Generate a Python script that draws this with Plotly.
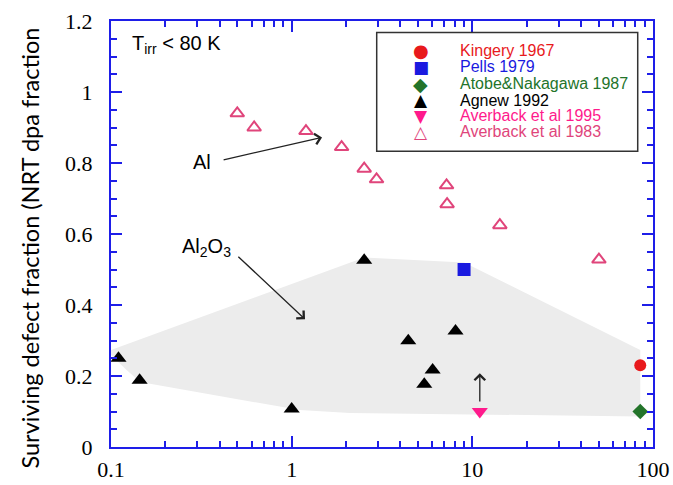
import plotly.graph_objects as go

# ---------------- data ----------------
kingery_x = [85.0]
kingery_y = [0.23]

pells_x = [9.0]
pells_y = [0.50]

atobe_x = [85.0]
atobe_y = [0.10]

agnew_x = [0.11, 0.144, 1.0, 2.52, 4.42, 5.42, 6.03, 8.07]
agnew_y = [0.25, 0.188, 0.107, 0.526, 0.299, 0.177, 0.217, 0.327]

av95_x = [11.0]
av95_y = [0.10]

av83_x = [0.50, 0.62, 1.20, 1.89, 2.52, 2.95, 7.2, 7.25, 14.2, 50.2]
av83_y = [0.94, 0.90, 0.89, 0.845, 0.784, 0.754, 0.737, 0.684, 0.625, 0.528]

# Al2O3 shaded band (boundary of the region)
band_x = [0.1, 2.52, 9.0, 85.0, 85.0, 2.1, 1.11, 0.145, 0.122, 0.1]
band_y = [0.273, 0.534, 0.52, 0.273, 0.086, 0.096, 0.104, 0.183, 0.217, 0.259]

legend_names = ["Kingery 1967", "Pells 1979", "Atobe&Nakagawa 1987",
                "Agnew 1992", "Averback et al 1995", "Averback et al 1983"]
legend_glyphs = ["●", "■", "◆", "▲", "▼", "△"]
legend_glyph_sizes = [18, 17, 19, 17, 17, 17]
legend_colors = ["#e8191c", "#1a1ae0", "#23742a", "#000000", "#ff1a8c", "#e0457b"]

x_tickvals = [0.1, 1, 10, 100]
x_ticktext = ["0.1", "1", "10", "100"]
y_tickvals = [0, 0.2, 0.4, 0.6, 0.8, 1.0, 1.2]
y_ticktext = ["0", "0.2", "0.4", "0.6", "0.8", "1", "1.2"]

# ---------------- layout geometry (pixels) ----------------
W, H = 673, 485
L, R, T, B = 110.7, 653.3, 20.7, 447.0
PW, PH = R - L, B - T


def px(x):
    return (x - L) / PW


def py(y):
    return (B - y) / PH


BLUE = "#1e1ee8"

fig = go.Figure()

fig.add_trace(go.Scatter(x=band_x, y=band_y, mode="lines", fill="toself",
                         fillcolor="#ececec", line=dict(width=0),
                         hoverinfo="skip", showlegend=False))

fig.add_trace(go.Scatter(x=av83_x, y=av83_y, mode="markers", showlegend=False,
                         marker=dict(symbol="triangle-up-open", size=12,
                                     color=legend_colors[5], line=dict(width=2))))
fig.add_trace(go.Scatter(x=agnew_x, y=agnew_y, mode="markers", showlegend=False,
                         marker=dict(symbol="triangle-up", size=14, color="#000000")))
fig.add_trace(go.Scatter(x=pells_x, y=pells_y, mode="markers", showlegend=False,
                         marker=dict(symbol="square", size=13, color=legend_colors[1])))
fig.add_trace(go.Scatter(x=kingery_x, y=kingery_y, mode="markers", showlegend=False,
                         marker=dict(symbol="circle", size=12, color=legend_colors[0])))
fig.add_trace(go.Scatter(x=atobe_x, y=atobe_y, mode="markers", showlegend=False,
                         marker=dict(symbol="diamond", size=12, color=legend_colors[2])))
fig.add_trace(go.Scatter(x=av95_x, y=av95_y, mode="markers", showlegend=False,
                         marker=dict(symbol="triangle-down", size=14, color=legend_colors[4])))

annotations = []
shapes = []

# Legend box
shapes.append(dict(type="rect", xref="paper", yref="paper",
                   x0=px(376.7), x1=px(638), y0=py(151), y1=py(32.3),
                   line=dict(color="#333333", width=1.5), fillcolor="white",
                   layer="above"))
row_y = [50, 66.7, 83.3, 100, 115.7, 131.7]
for name, glyph, gs, col, ry in zip(legend_names, legend_glyphs, legend_glyph_sizes,
                                    legend_colors, row_y):
    annotations.append(dict(xref="paper", yref="paper", x=px(421), y=py(ry),
                            text=glyph, showarrow=False, xanchor="center", yanchor="middle",
                            font=dict(family="DejaVu Sans", size=gs, color=col)))
    annotations.append(dict(xref="paper", yref="paper", x=px(458), y=py(ry),
                            text=name, showarrow=False, xanchor="left", yanchor="middle",
                            font=dict(family="Liberation Sans", size=16, color=col)))

# T_irr text
annotations.append(dict(xref="paper", yref="paper", x=px(130), y=py(44),
                        text="T<sub>irr</sub> < 80 K", showarrow=False,
                        xanchor="left", yanchor="middle",
                        font=dict(family="Liberation Sans", size=20, color="black")))

# Al arrow
annotations.append(dict(xref="x", yref="y", axref="x", ayref="y",
                        x=0.168, y=0.872, ax=-0.385, ay=0.808,
                        showarrow=True, arrowhead=4, arrowsize=1.6, arrowwidth=1.3,
                        arrowcolor="#222222", text=""))
annotations.append(dict(xref="paper", yref="paper", x=px(213), y=py(162),
                        text="Al", showarrow=False, xanchor="right", yanchor="middle",
                        font=dict(family="Liberation Sans", size=20, color="black")))

# Al2O3 arrow
annotations.append(dict(xref="x", yref="y", axref="x", ayref="y",
                        x=0.074, y=0.36, ax=-0.3035, ay=0.540,
                        showarrow=True, arrowhead=4, arrowsize=1.6, arrowwidth=1.3,
                        arrowcolor="#222222", text=""))
annotations.append(dict(xref="paper", yref="paper", x=px(206), y=py(247),
                        text="Al<sub>2</sub>O<sub>3</sub>", showarrow=False,
                        xanchor="center", yanchor="middle",
                        font=dict(family="Liberation Sans", size=20, color="black")))

# small arrow near Averback 1995
annotations.append(dict(xref="x", yref="y", axref="x", ayref="y",
                        x=1.0414, y=0.208, ax=1.0414, ay=0.124,
                        showarrow=True, arrowhead=4, arrowsize=1.6, arrowwidth=1.3,
                        arrowcolor="#222222", text=""))

# y-axis title
annotations.append(dict(xref="paper", yref="paper", x=px(30), y=py(248),
                        text="Surviving defect fraction (NRT dpa fraction",
                        textangle=-90, showarrow=False, xanchor="center", yanchor="middle",
                        font=dict(family="Lato", size=23.5, color="black")))

x_minor = [m * 10 ** e for e in (-1, 0, 1) for m in range(2, 10)]

fig.update_layout(
    width=W, height=H,
    margin=dict(l=L, r=W - R, t=T, b=H - B, autoexpand=False),
    paper_bgcolor="white", plot_bgcolor="white",
    showlegend=False,
    annotations=annotations, shapes=shapes,
    xaxis=dict(type="log", range=[-1, 2], tickmode="array", automargin=False,
               tickvals=x_tickvals, ticktext=x_ticktext,
               ticks="inside", ticklen=11, tickwidth=1.5, tickcolor=BLUE,
               showline=True, linecolor=BLUE, linewidth=2, mirror="allticks",
               showgrid=False, zeroline=False,
               ticklabelstandoff=2,
               tickfont=dict(family="Liberation Serif", size=22, color="black"),
               minor=dict(tickmode="array", tickvals=x_minor, ticks="inside",
                          ticklen=6, tickwidth=1.5, tickcolor=BLUE, showgrid=False)),
    yaxis=dict(range=[0, 1.2], tickmode="array", automargin=False,
               tickvals=y_tickvals, ticktext=y_ticktext,
               ticks="inside", ticklen=11, tickwidth=1.5, tickcolor=BLUE,
               showline=True, linecolor=BLUE, linewidth=2, mirror="allticks",
               showgrid=False, zeroline=False,
               ticklabelstandoff=12,
               tickfont=dict(family="Liberation Serif", size=22, color="black"),
               minor=dict(dtick=0.05, tick0=0, ticks="inside",
                          ticklen=6, tickwidth=1.5, tickcolor=BLUE, showgrid=False)),
)

fig.write_html("out.html")
